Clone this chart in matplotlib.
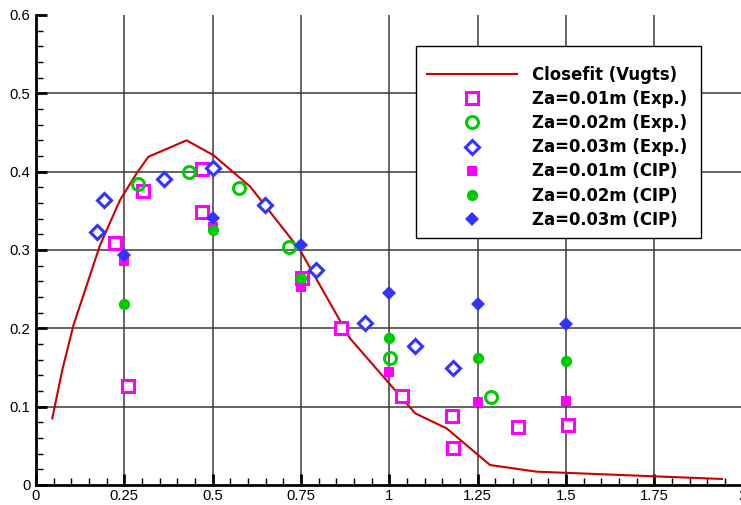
import matplotlib
matplotlib.use("Agg")
import matplotlib.pyplot as plt
from matplotlib.patches import Rectangle
from matplotlib.ticker import MultipleLocator, FuncFormatter

# Closefit (Vugts) curve
fit_x = [0.046, 0.075, 0.106, 0.181, 0.238, 0.285, 0.318, 0.426, 0.502, 0.606,
         0.747, 0.889, 1.073, 1.162, 1.285, 1.417, 1.941]
fit_y = [0.085, 0.148, 0.204, 0.306, 0.364, 0.398, 0.419, 0.440, 0.421, 0.381,
         0.300, 0.187, 0.0915, 0.0723, 0.0255, 0.017, 0.0077]

# Experimental data
exp1_x = [0.224, 0.302, 0.471, 0.469, 0.261, 0.752, 0.862, 1.035, 1.178, 1.181, 1.363, 1.507]
exp1_y = [0.3085, 0.375, 0.404, 0.349, 0.127, 0.264, 0.201, 0.113, 0.0885, 0.0477, 0.0736, 0.0766]
exp2_x = [0.288, 0.433, 0.575, 0.717, 1.002, 1.287]
exp2_y = [0.384, 0.399, 0.379, 0.304, 0.1625, 0.1128]
exp3_x = [0.172, 0.193, 0.362, 0.502, 0.648, 0.792, 0.931, 1.073, 1.181]
exp3_y = [0.3226, 0.3638, 0.390, 0.405, 0.358, 0.2745, 0.207, 0.1775, 0.150]

# CIP computations
cip_x = [0.25, 0.5, 0.75, 1.0, 1.25, 1.5]
cip1_y = [0.286, 0.329, 0.253, 0.1438, 0.1064, 0.1077]
cip2_y = [0.2307, 0.325, 0.264, 0.188, 0.1617, 0.158]
cip3_y = [0.2936, 0.3404, 0.307, 0.2455, 0.2307, 0.2055]

x_ticks = [0, 0.25, 0.5, 0.75, 1, 1.25, 1.5, 1.75, 2]
y_ticks = [0, 0.1, 0.2, 0.3, 0.4, 0.5, 0.6]

MAG = "#ff00ff"
GRN = "#00cc00"
BLU = "#3333ff"
RED = "#cc0000"

plt.rcParams["font.family"] = ["Liberation Sans", "DejaVu Sans"]

W, H = 741, 505
fig = plt.figure(figsize=(W / 100, H / 100), dpi=100)
ax = fig.add_axes([36 / W, 20 / H, 706.7 / W, 470 / H])
ax.set_xlim(0, 2)
ax.set_ylim(0, 0.6)

# grid lines at interior major ticks
for xv in x_ticks[1:-1]:
    ax.axvline(xv, color="#3a3a3a", lw=1.1, zorder=0)
for yv in y_ticks[1:-1]:
    ax.axhline(yv, color="#3a3a3a", lw=1.1, zorder=0)

ax.plot(fit_x, fit_y, color=RED, lw=1.5, label="Closefit (Vugts)", zorder=3)

ax.plot(exp1_x, exp1_y, ls="none", marker="s", ms=8.1, mfc="white", mec=MAG, mew=2.2,
        label="Za=0.01m (Exp.)", zorder=4)
ax.plot(exp2_x, exp2_y, ls="none", marker="o", ms=8.6, mfc="none", mec=GRN, mew=2.2,
        label="Za=0.02m (Exp.)", zorder=4)
ax.plot(exp3_x, exp3_y, ls="none", marker="D", ms=7.5, mfc="white", mec=BLU, mew=2.2,
        label="Za=0.03m (Exp.)", zorder=4)
ax.plot(cip_x, cip1_y, ls="none", marker="s", ms=7.9, mfc=MAG, mec=MAG, mew=0,
        label="Za=0.01m (CIP)", zorder=5)
ax.plot(cip_x, cip2_y, ls="none", marker="o", ms=8.1, mfc=GRN, mec=GRN, mew=0,
        label="Za=0.02m (CIP)", zorder=6)
ax.plot(cip_x, cip3_y, ls="none", marker="D", ms=6.8, mfc=BLU, mec=BLU, mew=0,
        label="Za=0.03m (CIP)", zorder=5)

for s in ["top", "right"]:
    ax.spines[s].set_visible(False)
for s in ["left", "bottom"]:
    ax.spines[s].set_linewidth(2)
    ax.spines[s].set_color("black")

ax.set_xticks(x_ticks)
ax.set_yticks(y_ticks)
ax.xaxis.set_minor_locator(MultipleLocator(0.05))
ax.yaxis.set_minor_locator(MultipleLocator(0.02))
fmt = FuncFormatter(lambda v, p: "%g" % round(v, 3))
ax.xaxis.set_major_formatter(fmt)
ax.yaxis.set_major_formatter(fmt)
ax.tick_params(which="major", direction="in", length=8, width=2, labelsize=10.7,
               pad=4, colors="black")
ax.tick_params(which="minor", direction="in", length=5, width=1, colors="black")
ax.tick_params(axis="x", which="major", pad=3)

# legend box
box = Rectangle((416 / W, 1 - 238 / H), (701 - 416) / W, (238 - 46) / H,
                transform=fig.transFigure, facecolor="white", edgecolor="black",
                lw=1.0, zorder=9, clip_on=False)
ax.add_patch(box)

leg = ax.legend(loc="upper left", bbox_to_anchor=(426.7 / W, 1 - 66 / H),
                bbox_transform=fig.transFigure, frameon=False,
                prop={"family": "DejaVu Sans", "weight": "bold", "size": 11.9},
                handlelength=5.45, handletextpad=0.9, labelspacing=0.37,
                borderpad=0, borderaxespad=0)
leg.set_zorder(10)

fig.savefig("out.png", dpi=100)
